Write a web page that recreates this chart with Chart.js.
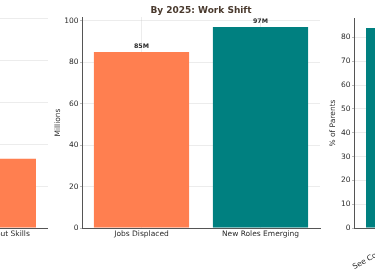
<!DOCTYPE html>
<html>
<head>
<meta charset="utf-8">
<script src="https://cdn.jsdelivr.net/npm/chart.js@4.4.1/dist/chart.umd.min.js"></script>
<style>
  html, body { margin: 0; padding: 0; background: #fff; overflow: hidden; }
  body { width: 375px; height: 275px; position: relative; }
  .panel { position: absolute; top: 0; height: 275px; }
</style>
</head>
<body>
<div class="panel" id="leftWrap" style="left:-120px; width:168px;"><canvas id="leftChart"></canvas></div>
<div class="panel" id="midWrap" style="left:40px; width:322px;"><canvas id="midChart"></canvas></div>
<div class="panel" id="rightWrap" style="left:320px; width:154px;"><canvas id="rightChart"></canvas></div>
<script>
// left panel (only its last bar is in view)
const skillsCategories = ['Workers Without Skills'];
const skillsValues = [33];
const skillsTicks = [0, 20, 40, 60, 80, 100];

// middle panel
const shiftCategories = ['Jobs Displaced', 'New Roles Emerging'];
const shiftValues = [85, 97];
const shiftValueLabels = ['85M', '97M'];
const shiftTicks = [0, 20, 40, 60, 80, 100];

// right panel (only its first bar is in view)
const parentCategories = ['See Coding as Key'];
const parentValues = [84];
const parentTicks = [0, 10, 20, 30, 40, 50, 60, 70, 80];

const ORANGE = '#FF7F50';
const TEAL = '#008080';
const GRID = 'rgba(200, 200, 200, 0.35)';
const SPINE = '#555';
const TEXT = '#2b2b2b';

Chart.defaults.font.family = "'DejaVu Sans', sans-serif";
Chart.defaults.font.size = 7.5;
Chart.defaults.color = TEXT;
Chart.defaults.animation = false;
Chart.defaults.responsive = true;
Chart.defaults.maintainAspectRatio = false;

// matplotlib puts the grid on top of the bars here, so scales get z: 1
function yAxis(ticks, max, width, title, titlePad) {
  return {
    min: 0,
    max: max,
    z: 1,
    afterBuildTicks: (scale) => { scale.ticks = ticks.map(v => ({ value: v })); },
    afterFit: (scale) => { scale.width = width; },
    ticks: { padding: 1.5, color: TEXT },
    grid: { color: GRID, tickColor: '#bbb', tickLength: 2 },
    border: { color: SPINE, width: 1 },
    title: {
      display: !!title,
      text: title,
      color: TEXT,
      font: { size: 7.5 },
      padding: { top: titlePad, bottom: 0 }
    }
  };
}

function xAxis(rotation) {
  return {
    z: 1,
    afterFit: (scale) => { scale.height = 47; },
    ticks: { padding: 2, color: TEXT, minRotation: rotation, maxRotation: rotation },
    grid: { offset: false, color: GRID, drawTicks: false },
    border: { color: SPINE, width: 1 }
  };
}

// title centred over the plot area (not the whole canvas), like matplotlib
const axesTitle = {
  id: 'axesTitle',
  afterDraw(chart, args, opts) {
    const { ctx, chartArea } = chart;
    ctx.save();
    ctx.font = "bold 9px 'DejaVu Sans', sans-serif";
    ctx.fillStyle = '#4a3a2e';
    ctx.textAlign = 'center';
    ctx.textBaseline = 'middle';
    ctx.fillText(opts.text, (chartArea.left + chartArea.right) / 2, 11);
    ctx.restore();
  }
};

// value labels above the middle bars
const barLabels = {
  id: 'barLabels',
  afterDraw(chart) {
    const ctx = chart.ctx;
    const meta = chart.getDatasetMeta(0);
    ctx.save();
    ctx.font = "bold 6.3px 'DejaVu Sans', sans-serif";
    ctx.fillStyle = TEXT;
    ctx.textAlign = 'center';
    ctx.textBaseline = 'bottom';
    meta.data.forEach((bar, i) => {
      ctx.fillText(shiftValueLabels[i], bar.x, bar.y - 2.5);
    });
    ctx.restore();
  }
};

new Chart(document.getElementById('leftChart'), {
  type: 'bar',
  data: {
    labels: skillsCategories,
    datasets: [{ data: skillsValues, backgroundColor: ORANGE, barPercentage: 0.8, categoryPercentage: 1 }]
  },
  options: {
    layout: { padding: { top: 7.5, right: 0, bottom: 0, left: 0 } },
    plugins: { legend: { display: false }, tooltip: { enabled: false } },
    scales: { x: xAxis(0), y: yAxis(skillsTicks, 105, 48, '', 0) }
  }
});

new Chart(document.getElementById('midChart'), {
  type: 'bar',
  data: {
    labels: shiftCategories,
    datasets: [{ data: shiftValues, backgroundColor: [ORANGE, TEAL], barPercentage: 0.8, categoryPercentage: 1 }]
  },
  options: {
    layout: { padding: { top: 17, right: 42, bottom: 0, left: 0 } },
    plugins: {
      legend: { display: false },
      tooltip: { enabled: false },
      axesTitle: { text: 'By 2025: Work Shift' }
    },
    scales: { x: xAxis(0), y: yAxis(shiftTicks, 101.85, 42, 'Millions', 13.5) }
  },
  plugins: [axesTitle, barLabels]
});

new Chart(document.getElementById('rightChart'), {
  type: 'bar',
  data: {
    labels: parentCategories,
    datasets: [{ data: parentValues, backgroundColor: TEAL, barPercentage: 0.8, categoryPercentage: 1 }]
  },
  options: {
    layout: { padding: { top: 18, right: 0, bottom: 0, left: 0 } },
    plugins: { legend: { display: false }, tooltip: { enabled: false } },
    scales: { x: xAxis(29), y: yAxis(parentTicks, 88.2, 34, '% of Parents', 8.5) }
  }
});
</script>
</body>
</html>
